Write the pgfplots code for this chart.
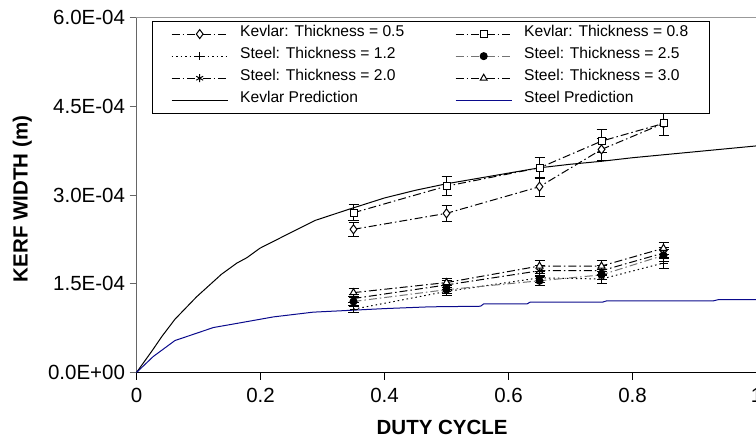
\documentclass[border=0pt]{standalone}
\usepackage{pgfplots}
\pgfplotsset{compat=1.18}
\usepackage{fontspec}
\setmainfont{Liberation Sans}
\definecolor{steelpred}{RGB}{10,10,140}
\pgfplotsset{
  myerr/.style={
    error bars/y dir=both,
    error bars/y fixed relative=0.05,
    error bars/error bar style={solid, black, line width=1bp},
    error bars/error mark options={rotate=90, mark size=5bp, solid, black, line width=1bp}
  },
  dashdot/.style={dash pattern=on 8bp off 3bp on 1.5bp off 3bp},
  dotline/.style={dash pattern=on 1.5bp off 3bp},
}
\begin{document}
\begin{tikzpicture}
\begin{axis}[
  width=620bp, height=355bp, scale only axis,
  xmin=0, xmax=1, ymin=0, ymax=6e-4,
  clip=false,
  axis lines=left, axis line style={-, line width=1bp},
  x axis line style={black}, y axis line style={black!60},
  xtick={0,0.2,0.4,0.6,0.8,1}, xticklabels={0,0.2,0.4,0.6,0.8,1},
  ytick={0,1.5e-4,3e-4,4.5e-4,6e-4},
  yticklabels={0.0E+00,1.5E-04,3.0E-04,4.5E-04,6.0E-04},
  scaled y ticks=false,
  tick align=outside, major tick length=7bp,
  xtick style={black, line width=1bp}, ytick style={black!60, line width=1bp},
  ticklabel style={font=\fontsize{20.5bp}{24bp}\selectfont},
  yticklabel style={xshift=-1bp},
  xticklabel style={yshift=-5bp},
  xlabel={DUTY CYCLE}, ylabel={KERF WIDTH (m)},
  label style={font=\fontsize{20.5bp}{24bp}\selectfont\bfseries},
  xlabel style={at={(axis description cs:0.493,-0.156)}, anchor=center},
  ylabel style={at={(axis description cs:-0.184,0.489)}, anchor=center},
  every axis plot/.append style={line width=1bp},
  legend image code/.code={\draw[mark repeat=2,mark phase=2,#1] plot coordinates {(0bp,0bp) (28bp,0bp) (56bp,0bp)};},
  legend columns=2,
  legend cell align=left,
  legend style={at={(0.025,0.991)}, anchor=north west, draw=black, fill=white,
    font=\fontsize{15.6bp}{18bp}\selectfont,
    inner xsep=19bp, inner ysep=6.5bp,
    nodes={inner sep=2bp, text height=0.72em, text depth=0.22em},
    /tikz/every odd column/.append style={column sep=10bp},
    /tikz/every even column/.append style={column sep=49bp},
    /tikz/row sep=8.7bp},
]
\draw[black!40, line width=1bp] (rel axis cs:0,1) -- (rel axis cs:1,1);

\addplot[black, dashdot, mark=diamond*, mark options={solid, fill=white, mark size=4.5bp}, myerr]
  coordinates {(0.35,2.42e-4) (0.5,2.69e-4) (0.65,3.14e-4) (0.75,3.77e-4) (0.85,4.21e-4)};
\addlegendentry{Kevlar: Thickness = 0.5}
\addplot[black, dashdot, mark=square*, mark options={solid, fill=white, mark size=3.5bp}, myerr]
  coordinates {(0.35,2.70e-4) (0.5,3.15e-4) (0.65,3.46e-4) (0.75,3.91e-4) (0.85,4.21e-4)};
\addlegendentry{Kevlar: Thickness = 0.8}
\addplot[black, dotline, mark=+, mark options={solid, mark size=4bp}, myerr]
  coordinates {(0.35,1.07e-4) (0.5,1.37e-4) (0.65,1.60e-4) (0.75,1.58e-4) (0.85,1.85e-4)};
\addlegendentry{Steel: Thickness = 1.2}
\addplot[black!55, dashdot, mark=*, mark options={solid, black, fill=black, mark size=3.5bp}, myerr]
  coordinates {(0.35,1.20e-4) (0.5,1.40e-4) (0.65,1.55e-4) (0.75,1.65e-4) (0.85,1.98e-4)};
\addlegendentry{Steel: Thickness = 2.5}
\addplot[black, dashdot, mark=asterisk, mark options={solid, mark size=4bp}, myerr]
  coordinates {(0.35,1.25e-4) (0.5,1.48e-4) (0.65,1.72e-4) (0.75,1.72e-4) (0.85,2.02e-4)};
\addlegendentry{Steel: Thickness = 2.0}
\addplot[black, dashdot, mark=triangle*, mark options={solid, fill=white, mark size=4bp}, myerr]
  coordinates {(0.35,1.35e-4) (0.5,1.52e-4) (0.65,1.80e-4) (0.75,1.80e-4) (0.85,2.10e-4)};
\addlegendentry{Steel: Thickness = 3.0}
\addplot[black, solid, no marks] coordinates {
  (0,0) (0.026,0.38e-4) (0.041,0.61e-4) (0.062,0.90e-4) (0.097,1.28e-4)
  (0.137,1.66e-4) (0.162,1.85e-4) (0.178,1.94e-4) (0.199,2.10e-4) (0.248,2.36e-4)
  (0.288,2.57e-4) (0.343,2.76e-4) (0.40,2.95e-4) (0.45,3.08e-4) (0.50,3.19e-4)
  (0.55,3.28e-4) (0.60,3.37e-4) (0.65,3.46e-4) (0.70,3.52e-4) (0.75,3.57e-4)
  (0.80,3.63e-4) (0.85,3.68e-4) (0.90,3.73e-4) (0.95,3.78e-4) (1.0,3.83e-4)};
\addlegendentry{Kevlar Prediction}
\addplot[steelpred, solid, no marks] coordinates {
  (0,0) (0.027,0.27e-4) (0.062,0.54e-4) (0.124,0.76e-4) (0.162,0.83e-4)
  (0.221,0.94e-4) (0.285,1.02e-4) (0.343,1.05e-4) (0.40,1.08e-4) (0.473,1.11e-4)
  (0.555,1.12e-4) (0.56,1.16e-4) (0.63,1.16e-4) (0.635,1.19e-4) (0.752,1.19e-4)
  (0.758,1.21e-4) (0.93,1.21e-4) (0.938,1.23e-4) (1.0,1.23e-4)};
\addlegendentry{Steel Prediction}
\end{axis}
\pgfresetboundingbox
\path[use as bounding box] ([shift={(-136.5bp,-66.5bp)}]current axis.south west) rectangle ([shift={(619.5bp,372.5bp)}]current axis.south west);
\end{tikzpicture}
\end{document}
